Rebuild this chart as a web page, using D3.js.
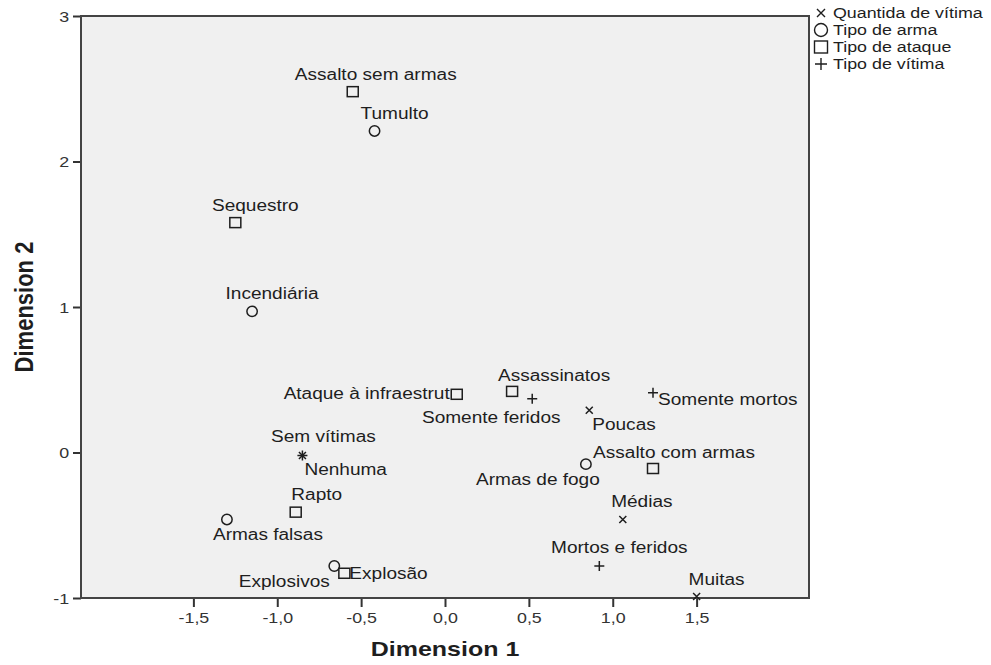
<!DOCTYPE html>
<html>
<head>
<meta charset="utf-8">
<script src="https://cdn.jsdelivr.net/npm/d3@7"></script>
<style>
  html, body { margin: 0; padding: 0; background: #ffffff; }
  svg { display: block; font-family: "Liberation Sans", Arial, sans-serif; }
</style>
</head>
<body>
<svg id="chart" width="991" height="665"></svg>
<script>
// ---- data ----
const pointLabels = ["Assalto sem armas","Tumulto","Sequestro","Incendiária","Ataque à infraestrut",
  "Assassinatos","Somente feridos","Poucas","Somente mortos","Sem vítimas","Nenhuma","Armas de fogo",
  "Assalto com armas","Médias","Rapto","Armas falsas","Explosivos","Explosão","Mortos e feridos","Muitas"];
const dim1 = [-0.55,-0.42,-1.25,-1.15,0.07,0.40,0.52,0.86,1.24,-0.85,-0.85,0.84,1.24,1.06,-0.89,-1.30,-0.66,-0.60,0.92,1.50];
const dim2 = [2.48,2.21,1.58,0.97,0.40,0.42,0.37,0.29,0.41,-0.02,-0.02,-0.08,-0.11,-0.46,-0.41,-0.46,-0.78,-0.83,-0.78,-0.99];
const groups = ["Tipo de ataque","Tipo de arma","Tipo de ataque","Tipo de arma","Tipo de ataque",
  "Tipo de ataque","Tipo de vítima","Quantida de vítima","Tipo de vítima","Tipo de vítima","Quantida de vítima","Tipo de arma",
  "Tipo de ataque","Quantida de vítima","Tipo de ataque","Tipo de arma","Tipo de arma","Tipo de ataque","Tipo de vítima","Quantida de vítima"];
const legendLabels = ["Quantida de vítima","Tipo de arma","Tipo de ataque","Tipo de vítima"];
const xTicks = [-1.5,-1.0,-0.5,0.0,0.5,1.0,1.5];
const yTicks = [-1,0,1,2,3];
const xTitle = "Dimension 1";
const yTitle = "Dimension 2";

// label placement (pixel offset from marker, anchor)
const labelPlace = [[23,-12,"middle"],[20,-12,"middle"],[20,-12,"middle"],[20,-12,"middle"],[-7,5,"end"],
  [42,-10,"middle"],[-41,24,"middle"],[3,20,"start"],[5,12,"start"],[21,-13,"middle"],[2,20,"start"],[-48,21,"middle"],
  [21,-11,"middle"],[19,-12,"middle"],[21,-12,"middle"],[41,21,"middle"],[-50,21,"middle"],[5,6,"start"],[20,-13,"middle"],[20,-12,"middle"]];

// ---- layout ----
const L = 81, T = 16, R = 809, B = 598;
const SX = 1.19; // horizontal text stretch
const svg = d3.select("#chart");
const x = d3.scaleLinear().domain([-2.17, 2.17]).range([L, R]);
const y = d3.scaleLinear().domain([-1, 3]).range([B, T]);
const ink = "#1e1e1e";

svg.append("rect").attr("x", L).attr("y", T).attr("width", R - L).attr("height", B - T)
  .attr("fill", "#f0f0f0");

// axes
const fmt = d => d3.format(".1f")(d).replace(".", ",").replace("−", "-");
const xAxis = svg.append("g").attr("transform", `translate(0,${B})`)
  .call(d3.axisBottom(x).tickValues(xTicks).tickSize(9).tickSizeOuter(0).tickFormat(fmt));
const yAxis = svg.append("g").attr("transform", `translate(${L},0)`)
  .call(d3.axisLeft(y).tickValues(yTicks).tickSize(8).tickSizeOuter(0).tickFormat(d => d3.format("d")(d).replace("−", "-")));
[xAxis, yAxis].forEach(a => {
  a.select(".domain").remove();
  a.selectAll(".tick line").attr("stroke", "#333").attr("stroke-width", 2);
  a.selectAll(".tick text").attr("fill", "#333").attr("font-size", 15)
    .attr("font-family", "Liberation Sans, Arial, sans-serif");
});
xAxis.selectAll(".tick text").attr("y", 14).attr("dy", "0.71em")
  .attr("transform", function() { return `scale(${SX},1)`; })
  .attr("x", 0);
yAxis.selectAll(".tick text").attr("x", -10).attr("dy", "0.35em")
  .attr("transform", `scale(${SX},1)`);

// border
svg.append("rect").attr("x", L).attr("y", T).attr("width", R - L).attr("height", B - T)
  .attr("fill", "none").attr("stroke", "#444").attr("stroke-width", 2);

// symbol drawing
function drawSymbol(g, grp) {
  const s = g.append("g").attr("fill", "none").attr("stroke", ink).attr("stroke-width", 1.5);
  if (grp === "Quantida de vítima") {
    s.append("path").attr("d", "M-3.5,-3.5L3.5,3.5M-3.5,3.5L3.5,-3.5");
  } else if (grp === "Tipo de arma") {
    s.append("circle").attr("r", 5.2);
  } else if (grp === "Tipo de ataque") {
    s.append("rect").attr("x", -5.5).attr("y", -5).attr("width", 11).attr("height", 10);
  } else {
    s.append("path").attr("d", "M-5,0L5,0M0,-5L0,5");
  }
}

// points
const pts = svg.append("g");
pointLabels.forEach((lab, i) => {
  const g = pts.append("g").attr("transform", `translate(${x(dim1[i])},${y(dim2[i])})`);
  drawSymbol(g, groups[i]);
});
// labels
pointLabels.forEach((lab, i) => {
  const [dx, dy, anc] = labelPlace[i];
  svg.append("g").attr("transform", `translate(${x(dim1[i]) + dx},${y(dim2[i]) + dy})`)
    .append("text").attr("transform", `scale(${SX},1)`).attr("text-anchor", anc)
    .attr("font-size", 16).attr("fill", ink).text(lab);
});

// axis titles
svg.append("g").attr("transform", `translate(${(L + R) / 2},656)`)
  .append("text").attr("transform", `scale(${SX},1)`).attr("text-anchor", "middle")
  .attr("font-size", 21).attr("font-weight", "bold").attr("fill", ink).text(xTitle);
svg.append("g").attr("transform", `translate(33,${(T + B) / 2})`)
  .append("text").attr("transform", `scale(${SX},1) rotate(-90)`).attr("text-anchor", "middle")
  .attr("font-size", 22).attr("font-weight", "bold").attr("fill", ink).text(yTitle);

// legend
const leg = svg.append("g");
legendLabels.forEach((lab, i) => {
  const cy = 13 + i * 17;
  const g = leg.append("g").attr("transform", `translate(821,${cy})`);
  const s = g.append("g").attr("fill", "none").attr("stroke", ink).attr("stroke-width", 1.4);
  if (i === 0) s.append("path").attr("d", "M-4,-4L4,4M-4,4L4,-4");
  else if (i === 1) s.append("circle").attr("r", 6.5);
  else if (i === 2) s.append("rect").attr("x", -6.5).attr("y", -6).attr("width", 13).attr("height", 12);
  else s.append("path").attr("d", "M-6,0L6,0M0,-6L0,6");
  g.append("g").attr("transform", "translate(12,0)")
    .append("text").attr("transform", `scale(${SX},1)`).attr("dy", "0.35em")
    .attr("font-size", 15).attr("fill", ink).text(lab);
});
</script>
</body>
</html>
